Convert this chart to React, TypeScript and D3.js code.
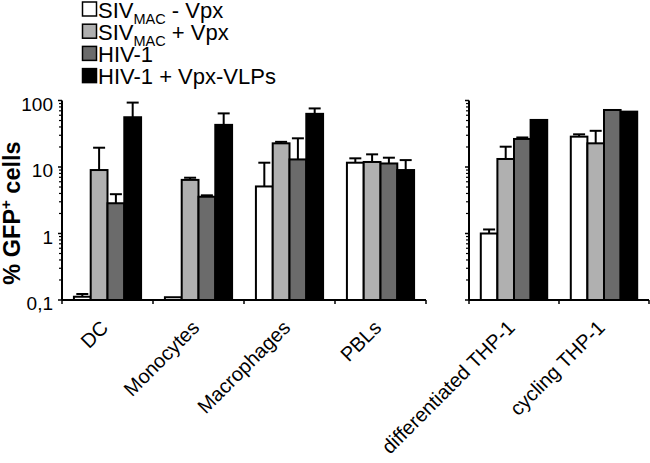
import React from "react";
import * as d3 from "d3";

const seriesNames = ["SIV_MAC - Vpx", "SIV_MAC + Vpx", "HIV-1", "HIV-1 + Vpx-VLPs"];
const seriesColors = ["#ffffff", "#b0b0b0", "#6b6b6b", "#000000"];
const leftCategories = ["DC", "Monocytes", "Macrophages", "PBLs"];
const rightCategories = ["differentiated THP-1", "cycling THP-1"];
const categories = [...leftCategories, ...rightCategories];

// values per series across the 6 categories
const sivMinusVpx = [0.112, 0.11, 5.1, 11.6, 1.0, 28.6];
const sivPlusVpx = [9.0, 6.4, 22.7, 11.9, 13.2, 22.7];
const hiv1 = [2.85, 3.57, 13.0, 11.3, 26.4, 72];
const hiv1Vlps = [56, 43, 63, 9.0, 51, 68];
const values = [sivMinusVpx, sivPlusVpx, hiv1, hiv1Vlps];

// upper error (SD)
const errSivMinus = [0.011, 0, 6.5, 1.9, 0.15, 2.4];
const errSivPlus = [10.5, 0.5, 1.2, 3.6, 7.0, 12.3];
const errHiv1 = [1.05, 0.18, 14, 2.5, 1.4, 0];
const errHiv1Vlps = [37, 21, 13, 3.7, 0, 0];
const errors = [errSivMinus, errSivPlus, errHiv1, errHiv1Vlps];

const yTickValues = [0.1, 1, 10, 100];
const yTickLabels = ["0,1", "1", "10", "100"];

const FONT = "'Liberation Sans', Arial, Helvetica, sans-serif";

const W = 650;
const H = 463;
const yTop = 100.5;
const yBottom = 300;

function Panel({ cats, x0, x1, showLabels }: { cats: string[]; x0: number; x1: number; showLabels: boolean }) {
  const y = d3.scaleLog().domain([0.1, 100]).range([yBottom, yTop]);
  const xCat = d3.scaleBand<string>().domain(cats).range([x0, x1]).padding(0);
  const xSer = d3
    .scaleBand<number>()
    .domain([0, 1, 2, 3])
    .range([0, xCat.bandwidth()])
    .paddingInner(0)
    .paddingOuter(0.71);
  const minor: number[] = [];
  for (let e = -1; e < 2; e++) {
    for (let m = 2; m <= 9; m++) minor.push(m * Math.pow(10, e));
  }
  const boundaries = cats.map((c) => (xCat(c) as number) + xCat.bandwidth());
  return (
    <g>
      {cats.map((c) => {
        const ci = categories.indexOf(c);
        return (
          <g key={c}>
            {values.map((vals, si) => {
              const v = vals[ci];
              const bx = (xCat(c) as number) + (xSer(si) as number);
              const bw = xSer.bandwidth();
              const top = y(v);
              const err = errors[si][ci];
              const et = y(v + err);
              const cx = bx + bw / 2;
              return (
                <g key={si}>
                  {err > 0 && (
                    <g stroke="#000" strokeWidth={2}>
                      <line x1={cx} x2={cx} y1={top} y2={et} />
                      <line x1={cx - 6} x2={cx + 6} y1={et} y2={et} />
                    </g>
                  )}
                  <rect
                    x={bx}
                    y={top}
                    width={bw}
                    height={yBottom - top}
                    fill={seriesColors[si]}
                    stroke="#000"
                    strokeWidth={2}
                  />
                </g>
              );
            })}
          </g>
        );
      })}
      <line x1={x0} x2={x0} y1={yTop} y2={yBottom} stroke="#000" strokeWidth={2} />
      {yTickValues.map((t) => (
        <line key={"M" + t} x1={x0 - 4} x2={x0} y1={y(t)} y2={y(t)} stroke="#000" strokeWidth={1.5} />
      ))}
      {minor.map((t) => (
        <line key={"m" + t} x1={x0 - 3} x2={x0} y1={y(t)} y2={y(t)} stroke="#000" strokeWidth={1.2} />
      ))}
      {showLabels &&
        yTickValues.map((t, i) => (
          <text
            key={"L" + t}
            x={x0 - 9}
            y={y(t) + 10}
            textAnchor="end"
            fontSize={19}
            fontFamily={FONT}
            fill="#000"
          >
            {yTickLabels[i]}
          </text>
        ))}
      <line x1={x0} x2={x1} y1={yBottom} y2={yBottom} stroke="#000" strokeWidth={2} />
      {[x0, ...boundaries].map((b, i) => (
        <line key={"xt" + i} x1={b} x2={b} y1={yBottom} y2={yBottom + 4} stroke="#000" strokeWidth={1.5} />
      ))}
      {cats.map((c) => {
        const cx = (xCat(c) as number) + xCat.bandwidth() / 2 + 2;
        const cy = 329;
        return (
          <text
            key={"cl" + c}
            x={cx}
            y={cy}
            transform={`rotate(-45, ${cx}, ${cy})`}
            textAnchor="end"
            fontSize={20}
            fontFamily={FONT}
            fill="#000"
          >
            {c}
          </text>
        );
      })}
    </g>
  );
}

function LegendLabel({ name, x, y }: { name: string; x: number; y: number }) {
  if (name.startsWith("SIV_MAC")) {
    const rest = name.slice("SIV_MAC".length);
    return (
      <text x={x} y={y} fontSize={22} fontFamily={FONT} fill="#000">
        SIV
        <tspan fontSize={14.5} dy={6}>
          MAC
        </tspan>
        <tspan dy={-6}>{rest}</tspan>
      </text>
    );
  }
  return (
    <text x={x} y={y} fontSize={22} fontFamily={FONT} fill="#000">
      {name}
    </text>
  );
}

export default function App() {
  return (
    <svg
      width={W}
      height={H}
      style={{ position: "absolute", left: 0, top: 0, background: "#fff" }}
      xmlns="http://www.w3.org/2000/svg"
    >
      <rect x={0} y={0} width={W} height={H} fill="#fff" />
      {seriesNames.map((s, i) => {
        const ly = 2 + i * 22.2;
        return (
          <g key={s}>
            <rect x={82.5} y={ly} width={14} height={14} fill={seriesColors[i]} stroke="#000" strokeWidth={1.5} />
            <LegendLabel name={s} x={98} y={ly + 15.5} />
          </g>
        );
      })}
      <Panel cats={leftCategories} x0={62} x1={426} showLabels={true} />
      <Panel cats={rightCategories} x0={469} x1={649} showLabels={false} />
      <text
        x={20}
        y={213}
        transform="rotate(-90, 20, 213)"
        textAnchor="middle"
        fontSize={23.5}
        fontWeight="bold"
        fontFamily={FONT}
        fill="#000"
      >
        % GFP
        <tspan fontSize={15} dy={-9}>
          +
        </tspan>
        <tspan dy={9}> cells</tspan>
      </text>
    </svg>
  );
}
